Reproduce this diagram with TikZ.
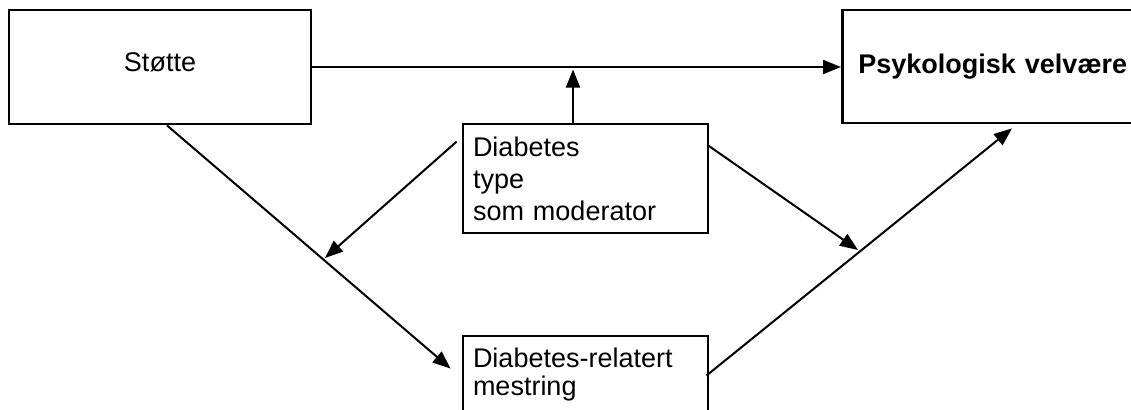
\documentclass[tikz,border=0pt]{standalone}
\usepackage{fontspec}
\setmainfont{Liberation Sans}
\usepackage{tikz}
\usetikzlibrary{arrows.meta}
\usetikzlibrary{positioning}

\begin{document}
\begin{tikzpicture}[x=0.5pt,y=-0.5pt,
  box/.style={draw,rectangle,line width=1.4pt,inner ysep=0pt,font=\fontsize{13.5}{16}\selectfont},
  conn/.style={line width=1pt,-{Triangle[length=9pt,width=7pt]}}]
\clip (0,0) rectangle (1131,409);
\node[box,minimum width=151pt,minimum height=57pt] (stotte) at (160,67) {\raisebox{4.5pt}{Støtte}};
\node[box,anchor=west,minimum height=56.5pt,inner xsep=8pt,text width=140pt,align=left,
  font=\fontsize{13.5}{16}\selectfont\bfseries] (velvaere) at (841,66.5) {Psykologisk velvære};
\node[box,minimum height=54.5pt,inner xsep=5pt,text width=112.5pt,align=left] (moderator) at (585.5,178.5)
  {Diabetes\\type\\som moderator};
\node[box,minimum height=39pt,inner xsep=5pt,text width=112.5pt,align=left,
  font=\fontsize{13.5}{14}\selectfont] (mestring) at (585.5,375) {Diabetes-relatert\\mestring};
\coordinate (hit) at (573,69.5);
\coordinate (midleft) at (325,258);
\coordinate (midright) at (858,250);
\draw[conn] (stotte.east) -- (stotte.east -| velvaere.west);
\draw[conn] (moderator.north -| hit) -- (hit);
\draw[conn] ([shift={(-5,19)}]moderator.north west) -- (midleft);
\draw[conn] ([shift={(-1,23)}]moderator.north east) -- (midright);
\draw[conn] ([shift={(7,0)}]stotte.south) -- ([shift={(-11,34)}]mestring.north west);
\draw[conn] ([shift={(-3,41)}]mestring.north east) -- ([shift={(171,4)}]velvaere.south west);
\end{tikzpicture}
\end{document}
